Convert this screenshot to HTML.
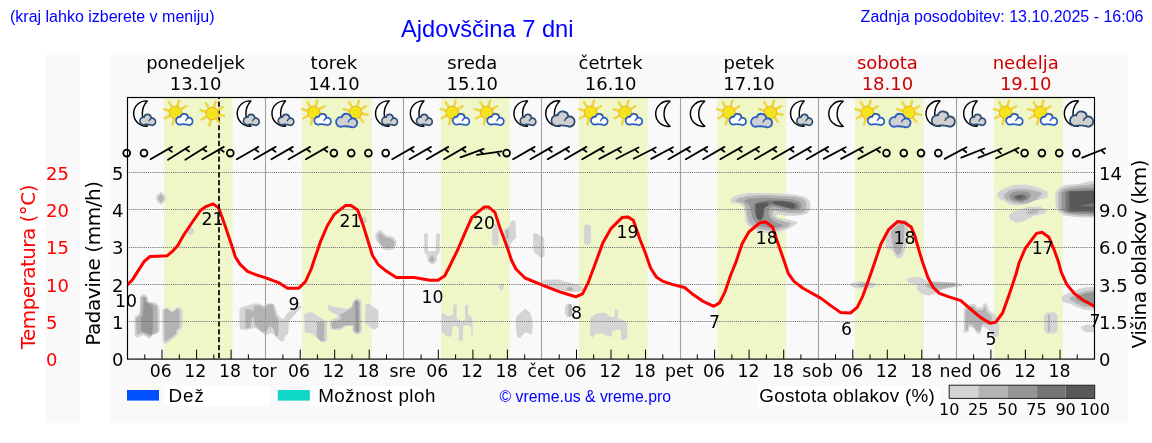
<!DOCTYPE html><html><head><meta charset="utf-8"><title>Ajdovščina 7 dni</title><style>html,body{margin:0;padding:0;background:#fff;width:1152px;height:443px;overflow:hidden}svg{display:block}</style></head><body>
<svg width="1152" height="443" viewBox="0 0 1152 443">
<text x="10" y="22" style='font-family:"Liberation Sans",Arial,sans-serif;font-size:16px' fill="#0000ff">(kraj lahko izberete v meniju)</text>
<text x="401" y="37" style='font-family:"Liberation Sans",Arial,sans-serif;font-size:23.7px' fill="#0000ff">Ajdovščina 7 dni</text>
<text x="1143.5" y="21.5" text-anchor="end" style='font-family:"Liberation Sans",Arial,sans-serif;font-size:16px' fill="#0000ff">Zadnja posodobitev: 13.10.2025 - 16:06</text>
<rect x="45" y="55" width="35" height="368" fill="#f9f9f9"/>
<rect x="110" y="55" width="1018" height="368" fill="#f9f9f9"/>
<rect x="127.5" y="97.5" width="967.0" height="261.6" fill="#f9f9fa"/>
<rect x="164" y="97.5" width="68.6" height="261.6" fill="#eff7c9"/>
<rect x="302.1" y="97.5" width="69.6" height="261.6" fill="#eff7c9"/>
<rect x="441" y="97.5" width="68.8" height="261.6" fill="#eff7c9"/>
<rect x="579" y="97.5" width="68.7" height="261.6" fill="#eff7c9"/>
<rect x="717.2" y="97.5" width="68.9" height="261.6" fill="#eff7c9"/>
<rect x="855" y="97.5" width="68.6" height="261.6" fill="#eff7c9"/>
<rect x="994" y="97.5" width="68.9" height="261.6" fill="#eff7c9"/>
<polygon points="139.8,296.8 142.9,294.3 146.0,295.0 147.9,298.1 148.5,301.8 154.7,302.4 158.4,304.9 159.6,309.9 159.6,331.0 157.8,333.4 152.2,335.3 150.3,338.4 147.9,337.8 142.9,334.7 140.4,336.5 137.3,337.8 134.8,335.9 134.2,318.5 135.4,316.1 139.2,314.2 139.8,308.6" fill="#d4d4d4"/>
<polygon points="141.0,297.4 144.1,296.2 146.6,297.4 147.2,301.8 152.8,303.7 157.2,306.1 157.8,331.0 153.4,334.1 149.7,336.5 146.6,334.7 141.7,332.8 136.7,334.7 136.1,318.5 140.4,314.8 141.0,302.4" fill="#b3b3b3"/>
<polygon points="143.5,296.8 144.8,297.4 145.4,301.8 152.2,305.5 152.8,306.1 152.8,331.0 151.0,335.3 146.6,332.8 141.7,331.6 141.0,318.5 142.9,314.8 143.5,302.4" fill="#959595"/>
<polygon points="162.1,309.9 165.2,307.4 168.3,308.0 172.1,311.7 177.0,307.4 180.1,307.4 182.6,309.9 182.6,327.2 178.3,331.0 177.6,334.7 169.0,342.1 165.2,344.0 162.8,342.1 162.1,314.8" fill="#d4d4d4"/>
<polygon points="164.0,310.5 166.5,308.6 172.1,312.3 177.6,308.6 179.5,309.9 179.5,327.2 176.4,329.7 175.8,334.1 167.7,340.3 164.6,340.9 164.0,314.8" fill="#b3b3b3"/>
<polygon points="161.0,191.7 165.7,196.0 165.7,200.0 161.0,205.2 156.2,200.0 156.2,196.0" fill="#d4d4d4"/>
<polygon points="161.0,194.0 163.5,197.0 163.5,199.5 161.0,202.5 158.5,199.5 158.5,197.0" fill="#b3b3b3"/>
<polygon points="190.5,226.0 193.9,229.5 193.9,232.5 190.5,235.0 187.1,232.5 187.1,229.5" fill="#d4d4d4"/>
<polygon points="239.5,309.7 241.2,307.4 248.6,305.2 253.1,303.5 259.3,303.5 262.1,305.2 265.5,306.3 267.8,303.5 273.4,303.5 275.1,306.3 277.4,314.2 281.3,318.7 284.1,318.7 287.0,313.6 291.5,310.2 298.8,305.7 301.1,305.7 301.6,306.9 289.2,321.0 288.1,333.4 284.7,336.8 284.1,341.3 280.7,341.3 276.2,337.4 273.4,334.0 270.0,332.8 268.3,334.5 265.5,335.1 261.0,331.7 255.3,327.8 250.8,328.9 245.7,330.0 240.1,328.9 239.3,325.5" fill="#d4d4d4"/>
<polygon points="245.2,310.2 247.4,309.1 250.8,309.7 253.1,311.9 254.2,305.7 259.3,305.2 262.7,306.9 265.5,307.4 267.8,304.6 272.8,304.6 274.0,308.6 275.7,315.3 278.5,319.9 278.5,326.6 277.9,335.7 275.7,336.2 274.0,328.9 271.1,326.6 268.9,326.6 266.6,331.1 262.7,332.3 258.7,328.9 255.3,325.5 253.6,317.6 251.9,317.6 250.2,327.8 245.7,328.3 245.2,317.6" fill="#b3b3b3"/>
<polygon points="304.3,314.2 310.2,311.9 312.4,312.5 318.1,316.4 324.3,319.8 327.1,322.1 327.1,340.7 324.3,342.4 320.9,341.8 319.2,339.0 311.3,333.4 304.5,332.2" fill="#d4d4d4"/>
<polygon points="316.9,322.1 324.3,321.5 324.3,340.7 321.4,341.3 316.9,337.9" fill="#b3b3b3"/>
<polygon points="327.1,306.3 329.3,305.2 333.9,306.8 347.4,309.1 351.9,305.7 353.0,301.2 356.4,298.4 358.7,299.0 361.5,301.2 361.8,331.1 359.8,333.9 356.4,334.5 353.0,332.2 352.5,326.0 346.3,326.0 340.6,330.0 333.9,330.0 330.5,328.9 329.6,323.2 331.0,319.8 337.2,317.6 338.9,315.9 333.9,313.6 328.8,310.2" fill="#d4d4d4"/>
<polygon points="339.5,314.7 345.1,311.9 351.9,307.4 354.2,301.8 359.8,301.8 360.4,331.1 357.5,333.4 353.6,331.1 353.0,324.9 345.1,325.5 340.6,327.7 332.7,328.9 331.0,323.2 332.7,321.5 339.5,319.8 341.7,317.6" fill="#b3b3b3"/>
<polygon points="355.3,300.6 358.1,300.6 358.4,331.1 355.9,331.7" fill="#959595"/>
<polygon points="365.4,304.6 368.8,303.5 372.2,306.3 378.4,310.2 378.4,326.6 375.6,329.4 372.2,328.9 367.7,324.9 365.2,323.8" fill="#d4d4d4"/>
<polygon points="363.5,215.9 366.7,219.0 366.7,222.0 364.0,224.0 361.3,221.0 361.3,218.0" fill="#d4d4d4"/>
<polygon points="375.3,234.0 379.4,229.9 381.2,230.3 386.1,235.3 392.9,236.7 396.5,240.7 396.5,245.7 392.9,249.7 386.6,250.2 382.1,248.4 376.7,241.2 375.3,238.5" fill="#d4d4d4"/>
<polygon points="378.0,234.9 379.8,232.6 384.8,237.1 392.0,238.9 394.7,242.1 393.8,246.6 391.1,248.0 385.7,248.0 382.1,245.7 378.5,240.3" fill="#b3b3b3"/>
<polygon points="424.1,234.0 426.0,233.1 427.8,234.0 427.8,251.2 435.5,251.2 436.2,234.0 437.8,233.1 439.8,234.0 439.8,251.2 436.9,255.7 436.9,261.1 434.2,263.8 430.6,263.8 427.4,261.1 427.4,255.7 424.1,252.1" fill="#d4d4d4"/>
<polygon points="431.9,254.8 434.6,258.4 434.2,261.1 431.9,262.5 429.5,260.7 429.5,258.4" fill="#b3b3b3"/>
<polygon points="441.4,314.2 443.7,313.1 447.6,315.9 450.5,315.9 453.3,313.6 453.3,305.2 455.0,304.0 456.7,305.7 456.7,318.7 458.9,319.8 462.3,321.5 465.1,319.3 465.1,305.2 468.0,305.2 468.0,314.2 472.5,318.7 473.0,335.6 471.3,335.6 471.3,327.2 468.5,325.5 466.3,324.9 462.9,327.2 462.9,340.7 458.9,340.7 458.9,327.7 456.1,326.0 452.7,326.6 451.6,336.2 447.6,336.8 441.4,331.7" fill="#d4d4d4"/>
<polygon points="492.2,226.0 493.8,224.0 497.0,224.0 498.6,226.0 498.6,243.8 497.0,245.8 493.8,245.8 492.2,243.8" fill="#d4d4d4"/>
<polygon points="503.9,229.8 507.6,227.2 510.3,226.1 510.3,221.9 512.9,219.8 515.6,221.9 516.1,237.8 510.8,243.1 510.3,246.8 506.0,247.9 503.9,245.8" fill="#d4d4d4"/>
<polygon points="506.0,229.8 508.7,229.8 508.7,238.9 506.0,238.9" fill="#b3b3b3"/>
<polygon points="498.5,285.5 501.3,283.8 504.0,285.5 503.0,290.0 500.0,290.0" fill="#d4d4d4"/>
<polygon points="515.9,317.6 520.4,313.0 525.0,308.5 529.5,311.9 531.7,316.4 532.9,327.7 531.7,334.5 525.0,332.2 520.4,337.9 517.0,336.7 515.9,327.7" fill="#d4d4d4"/>
<polygon points="533.1,234.1 535.7,233.0 540.0,235.7 544.2,237.3 544.7,255.8 542.1,257.9 540.0,257.4 533.6,251.6 533.1,246.8" fill="#d4d4d4"/>
<polygon points="542.0,281.3 544.3,279.7 558.6,279.4 563.3,281.0 569.6,282.6 577.5,284.5 583.1,287.6 583.1,290.0 579.1,292.1 572.0,292.1 561.7,290.8 555.4,289.2 544.3,284.5 542.0,282.9" fill="#d4d4d4"/>
<polygon points="565.7,289.2 569.6,286.4 572.0,287.6 573.6,290.0 571.2,290.8 566.5,290.5" fill="#b3b3b3"/>
<polygon points="567.0,303.5 572.0,304.5 572.0,316.0 567.0,316.9 564.9,313.0 564.9,307.0" fill="#d4d4d4"/>
<polygon points="568.5,304.0 572.0,304.5 572.0,316.0 568.5,316.5" fill="#b3b3b3"/>
<polygon points="584.1,226.0 587.5,224.1 590.9,226.0 590.9,243.0 587.5,245.1 584.1,243.0" fill="#d4d4d4"/>
<polygon points="590.2,317.7 597.3,312.9 605.2,312.9 610.7,316.9 614.7,316.9 614.7,309.8 616.2,309.0 617.8,310.6 617.8,318.5 624.2,320.8 627.3,322.4 627.3,338.2 622.6,340.6 621.0,339.0 621.0,330.3 617.0,329.5 612.3,331.1 611.5,336.7 607.6,335.9 602.0,333.5 596.5,333.5 592.5,337.4 590.2,335.9" fill="#d4d4d4"/>
<polygon points="730.1,200.4 733.5,196.5 740.8,194.2 748.7,193.1 762.3,193.1 779.2,193.6 795.0,194.8 804.0,196.5 808.6,199.3 810.3,203.8 810.3,209.5 807.4,213.4 802.9,215.1 795.0,215.7 784.8,215.7 778.1,214.2 775.8,215.7 778.1,217.9 788.2,219.6 797.3,221.9 797.3,223.0 792.8,226.4 786.0,229.8 778.1,232.6 772.4,233.2 763.4,232.6 754.4,229.8 747.6,225.3 745.3,220.7 744.8,212.8 743.6,207.2 739.7,203.8 731.8,203.2" fill="#d4d4d4"/>
<polygon points="735.2,200.4 738.6,198.2 747.6,195.9 762.3,195.0 779.2,195.7 795.0,196.8 802.9,198.7 806.3,202.7 806.3,208.9 803.5,212.3 797.3,213.4 788.2,213.1 780.3,211.7 774.7,210.6 772.4,212.3 772.4,216.2 776.9,219.6 786.0,221.9 790.5,223.0 788.2,226.4 778.1,229.8 770.2,230.3 760.0,229.2 753.2,226.4 748.7,221.9 747.0,215.1 745.9,208.3 743.6,203.2 737.4,202.1" fill="#b3b3b3"/>
<polygon points="743.1,201.6 748.7,198.7 762.3,197.6 778.1,198.2 792.8,199.3 800.1,202.1 801.8,206.1 800.1,209.5 793.9,210.6 786.0,210.0 778.1,207.8 772.4,206.6 769.0,208.9 768.5,214.0 770.2,218.5 774.7,221.9 783.7,225.3 778.1,227.5 770.2,228.1 762.3,227.0 756.6,224.1 752.7,219.1 751.0,211.7 749.8,206.6 747.6,203.8" fill="#959595"/>
<polygon points="754.4,203.8 758.9,202.1 767.9,200.4 779.2,200.4 790.5,201.6 797.3,203.8 799.0,207.2 796.1,208.9 788.2,208.3 779.2,206.1 771.3,204.4 765.7,206.1 764.0,210.6 764.5,216.2 762.3,219.6 758.9,220.2 756.6,217.4 754.9,211.7" fill="#757575"/>
<polygon points="756.0,204.0 767.0,202.5 768.5,205.5 764.0,208.0 763.0,214.0 761.0,220.0 757.0,219.0 755.5,212.0" fill="#585858"/>
<polygon points="772.4,201.6 783.7,201.3 792.8,203.2 795.6,206.6 792.8,208.9 783.7,206.6 774.7,203.8" fill="#585858"/>
<polygon points="850.4,283.6 857.6,281.4 868.5,281.4 876.6,283.6 873.9,287.2 866.7,289.0 855.8,288.1 851.3,286.3" fill="#d4d4d4"/>
<polygon points="855.8,284.5 863.1,282.7 870.3,283.6 868.5,286.3 861.3,287.2" fill="#b3b3b3"/>
<polygon points="885.6,233.1 890.1,225.8 899.2,220.4 906.4,219.5 909.1,223.1 908.2,238.5 904.6,251.1 901.9,257.4 896.4,258.3 893.7,252.9 890.1,248.4 885.6,248.4" fill="#d4d4d4"/>
<polygon points="891.0,232.1 897.3,224.9 902.8,223.1 904.6,225.8 903.7,242.1 901.0,252.9 897.3,255.6 894.6,251.1 891.9,242.1" fill="#b3b3b3"/>
<polygon points="906.2,279.9 910.9,277.5 918.8,276.7 923.5,279.1 926.7,280.7 940.9,281.5 953.6,282.3 963.0,284.6 961.5,286.2 950.4,287.8 940.9,290.2 934.6,294.1 928.3,295.7 922.0,294.1 917.2,290.2 916.4,287.0 918.8,284.6 909.3,283.1" fill="#d4d4d4"/>
<polygon points="926.7,284.6 934.6,282.3 953.6,283.1 956.7,285.4 947.2,287.8 937.8,289.4 931.4,289.1 926.7,287.0" fill="#b3b3b3"/>
<polygon points="963.8,308.3 970.9,303.6 975.7,304.4 977.2,307.5 982.0,307.5 983.6,303.6 986.7,303.6 989.1,309.9 993.8,313.9 997.8,317.8 999.4,325.7 998.6,336.8 993.8,336.8 990.7,332.0 985.2,327.3 982.0,326.5 980.4,333.6 977.2,333.6 972.5,327.3 969.3,327.3 968.6,332.0 963.8,332.8" fill="#d4d4d4"/>
<polygon points="965.4,309.9 970.9,306.0 974.9,306.8 975.7,309.9 982.8,309.9 985.2,306.0 986.7,311.5 991.5,316.2 991.5,324.9 986.7,324.1 982.0,324.1 980.4,331.2 977.2,331.2 972.5,324.9 968.6,324.1 967.8,329.7 965.4,330.4" fill="#b3b3b3"/>
<polygon points="997.2,193.2 1000.4,190.5 1006.9,187.2 1013.4,185.0 1024.3,184.5 1036.2,186.7 1042.7,189.4 1047.6,192.1 1047.6,197.5 1041.6,199.1 1034.0,200.8 1027.5,204.0 1019.9,205.6 1010.2,204.6 1004.8,201.3 999.3,198.6 997.2,196.4" fill="#d4d4d4"/>
<polygon points="1004.2,194.3 1009.1,190.5 1016.7,188.8 1025.4,188.8 1031.9,189.9 1040.5,192.1 1041.6,194.3 1036.2,199.7 1029.7,202.4 1023.2,204.0 1014.5,202.9 1006.9,200.2 1004.2,197.5" fill="#b3b3b3"/>
<polygon points="1009.1,195.3 1012.3,192.6 1018.8,191.0 1026.4,191.6 1030.8,193.7 1030.8,196.4 1027.5,199.7 1022.1,201.8 1015.6,201.3 1010.2,199.1" fill="#959595"/>
<polygon points="1012.9,197.0 1016.7,194.8 1023.2,194.3 1027.5,196.4 1026.4,199.1 1021.0,200.8 1015.6,199.7" fill="#757575"/>
<polygon points="1016.1,196.4 1019.9,195.3 1023.7,196.4 1021.0,198.6 1017.2,198.1" fill="#585858"/>
<polygon points="1009.1,214.9 1013.4,211.6 1023.2,208.9 1027.5,206.7 1040.5,206.7 1046.0,210.5 1044.9,213.8 1035.1,215.4 1027.5,219.2 1022.1,221.9 1015.6,222.4 1010.2,219.7" fill="#d4d4d4"/>
<polygon points="1025.4,212.7 1029.7,210.5 1038.4,210.0 1037.3,213.2 1030.8,214.3" fill="#b3b3b3"/>
<polygon points="1055.2,192.1 1060.0,187.2 1065.5,185.0 1070.9,184.5 1081.7,183.4 1088.2,181.3 1094.5,181.3 1094.5,217.6 1088.2,217.6 1075.2,217.0 1064.4,215.4 1059.0,212.7 1055.7,207.3 1055.2,199.7" fill="#d4d4d4"/>
<polygon points="1058.4,193.2 1062.2,188.8 1070.9,186.7 1081.7,185.6 1094.5,184.0 1094.5,215.9 1077.4,215.4 1065.5,213.8 1060.0,210.5 1058.4,205.1" fill="#b3b3b3"/>
<polygon points="1061.7,193.2 1064.4,190.5 1073.0,188.8 1094.5,187.2 1094.5,214.3 1073.0,213.8 1064.4,212.1 1061.7,209.4" fill="#959595"/>
<polygon points="1065.5,193.2 1068.7,191.0 1094.5,189.9 1094.5,212.7 1068.7,212.1 1065.5,209.4" fill="#757575"/>
<polygon points="1069.3,191.6 1094.5,191.0 1094.5,202.9 1079.6,205.6 1094.5,207.3 1094.5,211.1 1069.3,211.1" fill="#585858"/>
<polygon points="1061.7,296.3 1067.1,293.6 1075.2,290.2 1084.7,287.5 1094.5,286.8 1094.5,310.5 1084.7,309.8 1076.6,307.1 1069.8,303.7 1062.4,301.7" fill="#d4d4d4"/>
<polygon points="1069.8,297.6 1077.9,293.6 1087.4,290.8 1094.5,290.2 1094.5,307.8 1083.4,306.4 1075.2,303.0 1070.5,300.3" fill="#b3b3b3"/>
<polygon points="1075.2,297.6 1084.7,293.6 1094.5,292.2 1094.5,305.1 1083.4,303.0 1076.6,300.3" fill="#959595"/>
<polygon points="1047.0,312.5 1054.7,312.5 1057.6,315.5 1057.6,330.5 1054.7,333.5 1047.0,333.5 1044.1,330.5 1044.1,315.5" fill="#d4d4d4"/>
<polygon points="1048.1,314.6 1049.8,314.6 1049.8,331.5 1048.1,331.5" fill="#b3b3b3"/>
<polygon points="1080.7,326.7 1086.1,324.7 1094.5,324.7 1094.5,332.2 1086.1,332.2 1082.0,330.1" fill="#d4d4d4"/>
<line x1="127" y1="321.5" x2="1094" y2="321.5" stroke="#6a6a6a" stroke-width="1" stroke-dasharray="1.05 1.05"/>
<line x1="127" y1="284.5" x2="1094" y2="284.5" stroke="#6a6a6a" stroke-width="1" stroke-dasharray="1.05 1.05"/>
<line x1="127" y1="247.5" x2="1094" y2="247.5" stroke="#6a6a6a" stroke-width="1" stroke-dasharray="1.05 1.05"/>
<line x1="127" y1="209.5" x2="1094" y2="209.5" stroke="#6a6a6a" stroke-width="1" stroke-dasharray="1.05 1.05"/>
<line x1="127" y1="172.5" x2="1094" y2="172.5" stroke="#6a6a6a" stroke-width="1" stroke-dasharray="1.05 1.05"/>
<line x1="265.5" y1="97.5" x2="265.5" y2="359.1" stroke="#a0a0a0" stroke-width="1.1"/>
<line x1="403.5" y1="97.5" x2="403.5" y2="359.1" stroke="#a0a0a0" stroke-width="1.1"/>
<line x1="541.5" y1="97.5" x2="541.5" y2="359.1" stroke="#a0a0a0" stroke-width="1.1"/>
<line x1="680.5" y1="97.5" x2="680.5" y2="359.1" stroke="#a0a0a0" stroke-width="1.1"/>
<line x1="818.5" y1="97.5" x2="818.5" y2="359.1" stroke="#a0a0a0" stroke-width="1.1"/>
<line x1="956.5" y1="97.5" x2="956.5" y2="359.1" stroke="#a0a0a0" stroke-width="1.1"/>
<clipPath id="pc"><rect x="127.5" y="97.5" width="967.0" height="261.6"/></clipPath>
<polyline points="127.5,284.7 132.4,279.9 137.9,271.1 144,261.7 150,256.5 157.5,256.2 167,255.8 173,250.8 177.8,245.4 183.7,235 192.8,221.5 200.7,210.2 206.3,206.3 213.1,203.9 218.7,207.9 224.4,223.7 229.9,240 232.6,248.1 235.3,256.9 240.1,264.4 247.5,271.4 256.3,274.9 265.8,277.9 271.2,279.9 278.5,282.6 287.5,288.2 298.8,288.2 305.6,281.4 311.2,269 313.5,262 320.5,241.7 327.2,226 334,214.7 345.3,205.6 351,205.6 357.7,210.1 363.4,226 372.4,255.3 378,264.3 385,270.2 396.3,277.6 414.3,277.6 430.1,280.3 438,280.3 444.8,275.8 450.5,264.5 457.2,250.8 465.1,232.7 471.9,217.4 477.6,212.4 484.3,207 488.8,207 494.9,212.4 500.1,228.2 506.9,246.3 511.4,260 515.9,269 525,278 543,285.3 561,292.3 575.7,296.8 582.5,293.9 588.2,282.6 595.5,263 602.8,242.9 610.7,228.9 622,217.6 627.7,216.9 633.3,220.3 640,239.5 645,252 650.6,268 656.3,276.9 663.1,281.4 672.1,284.4 684.5,287.5 692.4,293.9 702.6,301.1 713.8,306.3 719.5,302.9 725.1,291.6 730.8,274.7 736,262 742,244 748.8,232 760.1,222.6 765.8,221.9 772.5,227.1 778.2,244 784.5,262 788.3,273.5 794,281.4 803,288.2 821.1,298.4 830.1,305.1 840.3,312.4 850.4,313 857.2,307.4 862.8,296.1 868.5,280.3 874.5,263 880.9,244 888.8,229.3 897.8,221.4 904.4,222.6 911.2,227.1 914.6,235 919.1,250.8 922.5,262 928.1,278.1 933.8,288.2 939.4,293.4 948.4,296.6 960.8,300.6 969.9,308.5 980,317.1 990.2,323.2 995.8,322.1 1002.6,313 1009.4,293.9 1016.2,273.5 1019,263 1025.2,248.5 1036.5,233.4 1042.1,232.3 1048.9,237.2 1054.5,250.8 1058.5,262 1061.3,272.4 1067,284.8 1074.8,293.9 1083.9,300.6 1094.5,306.3" fill="none" stroke="#ff0000" stroke-width="3.0" stroke-linejoin="round" stroke-linecap="round" clip-path="url(#pc)"/>
<text x="126.0" y="307" text-anchor="middle" style='font-family:"DejaVu Sans",sans-serif;font-size:17.3px' fill="#000">10</text>
<text x="212.5" y="225" text-anchor="middle" style='font-family:"DejaVu Sans",sans-serif;font-size:17.3px' fill="#000">21</text>
<text x="294.0" y="310" text-anchor="middle" style='font-family:"DejaVu Sans",sans-serif;font-size:17.3px' fill="#000">9</text>
<text x="350.4" y="226.6" text-anchor="middle" style='font-family:"DejaVu Sans",sans-serif;font-size:17.3px' fill="#000">21</text>
<text x="432.4" y="303" text-anchor="middle" style='font-family:"DejaVu Sans",sans-serif;font-size:17.3px' fill="#000">10</text>
<text x="483.9" y="228.9" text-anchor="middle" style='font-family:"DejaVu Sans",sans-serif;font-size:17.3px' fill="#000">20</text>
<text x="576.6" y="319.1" text-anchor="middle" style='font-family:"DejaVu Sans",sans-serif;font-size:17.3px' fill="#000">8</text>
<text x="627.5" y="237.7" text-anchor="middle" style='font-family:"DejaVu Sans",sans-serif;font-size:17.3px' fill="#000">19</text>
<text x="714.5" y="327.7" text-anchor="middle" style='font-family:"DejaVu Sans",sans-serif;font-size:17.3px' fill="#000">7</text>
<text x="766.7" y="243.6" text-anchor="middle" style='font-family:"DejaVu Sans",sans-serif;font-size:17.3px' fill="#000">18</text>
<text x="846.4" y="334.5" text-anchor="middle" style='font-family:"DejaVu Sans",sans-serif;font-size:17.3px' fill="#000">6</text>
<text x="904.5" y="243.6" text-anchor="middle" style='font-family:"DejaVu Sans",sans-serif;font-size:17.3px' fill="#000">18</text>
<text x="990.9" y="344.7" text-anchor="middle" style='font-family:"DejaVu Sans",sans-serif;font-size:17.3px' fill="#000">5</text>
<text x="1042.7" y="253.7" text-anchor="middle" style='font-family:"DejaVu Sans",sans-serif;font-size:17.3px' fill="#000">17</text>
<text x="1095.0" y="327.3" text-anchor="middle" style='font-family:"DejaVu Sans",sans-serif;font-size:17.3px' fill="#000">7</text>
<line x1="219" y1="97.5" x2="219" y2="359.1" stroke="#1a1a1a" stroke-width="1.9" stroke-dasharray="5.2 2.65" stroke-dashoffset="3.75"/>
<path d="M147.2,100.9 A12.68,12.68 0 1 0 147.2,126.2 A18.78,18.78 0 0 1 147.2,100.9 Z" fill="#fff" stroke="#000" stroke-width="1.45" stroke-linejoin="round"/><g transform="translate(139.1,113.5) scale(1.000,1.144)"><g transform="translate(0.800,0.800) scale(0.9075,0.8559)"><path d="M5.23,10.36 A3.9,3.9 0 1 1 4.66,2.88 A4.0,4.0 0 0 1 12.50,3.87 A3.7,3.7 0 1 1 12.04,10.75 Q8.2,9.9 5.23,10.36 Z" fill="#d0d0d0" stroke="#2c4d72" stroke-width="1.763" stroke-linejoin="round"/><path d="M12.3,4.3 A3.2,3.2 0 0 0 10.0,6.6" fill="none" stroke="#2c4d72" stroke-width="1.360" stroke-linecap="round"/></g></g>
<polygon points="180.76,110.57 186.92,106.46 186.20,105.26 179.68,108.77" fill="#f3e51e" stroke="#e6b43c" stroke-width="0.5" stroke-linejoin="round"/><polygon points="180.74,114.49 188.09,115.43 188.33,114.05 181.10,112.42" fill="#f3e51e" stroke="#e6b43c" stroke-width="0.5" stroke-linejoin="round"/><polygon points="178.06,117.48 182.89,123.10 184.00,122.23 179.72,116.19" fill="#f3e51e" stroke="#e6b43c" stroke-width="0.5" stroke-linejoin="round"/><polygon points="173.15,117.58 171.70,124.85 173.06,125.19 175.19,118.09" fill="#f3e51e" stroke="#e6b43c" stroke-width="0.5" stroke-linejoin="round"/><polygon points="170.18,114.25 163.88,118.14 164.56,119.37 171.20,116.08" fill="#f3e51e" stroke="#e6b43c" stroke-width="0.5" stroke-linejoin="round"/><polygon points="170.51,109.97 163.30,108.27 162.91,109.62 169.93,111.99" fill="#f3e51e" stroke="#e6b43c" stroke-width="0.5" stroke-linejoin="round"/><polygon points="173.48,107.28 169.26,101.19 168.07,101.93 171.70,108.39" fill="#f3e51e" stroke="#e6b43c" stroke-width="0.5" stroke-linejoin="round"/><polygon points="178.03,107.50 179.73,100.29 178.39,99.91 176.01,106.92" fill="#f3e51e" stroke="#e6b43c" stroke-width="0.5" stroke-linejoin="round"/><circle cx="175.5" cy="112.5" r="6.2" fill="#f3e51b" stroke="#f2a52a" stroke-width="0.9"/><g transform="translate(175.2,113.0) scale(1.058,1.171)"><g transform="translate(0.804,0.804) scale(0.9071,0.8552)"><path d="M5.23,10.36 A3.9,3.9 0 1 1 4.66,2.88 A4.0,4.0 0 0 1 12.50,3.87 A3.7,3.7 0 1 1 12.04,10.75 Q8.2,9.9 5.23,10.36 Z" fill="#fff" stroke="#2a5fc0" stroke-width="1.772" stroke-linejoin="round"/><path d="M12.3,4.3 A3.2,3.2 0 0 0 10.0,6.6" fill="none" stroke="#2a5fc0" stroke-width="1.366" stroke-linecap="round"/></g></g>
<polygon points="217.49,111.67 223.66,107.56 222.94,106.36 216.41,109.87" fill="#f3e51e" stroke="#e6b43c" stroke-width="0.5" stroke-linejoin="round"/><polygon points="217.47,115.59 224.82,116.53 225.06,115.15 217.84,113.52" fill="#f3e51e" stroke="#e6b43c" stroke-width="0.5" stroke-linejoin="round"/><polygon points="214.80,118.58 219.63,124.20 220.73,123.33 216.45,117.29" fill="#f3e51e" stroke="#e6b43c" stroke-width="0.5" stroke-linejoin="round"/><polygon points="209.89,118.68 208.44,125.95 209.80,126.29 211.93,119.19" fill="#f3e51e" stroke="#e6b43c" stroke-width="0.5" stroke-linejoin="round"/><polygon points="206.92,115.35 200.62,119.24 201.30,120.47 207.94,117.18" fill="#f3e51e" stroke="#e6b43c" stroke-width="0.5" stroke-linejoin="round"/><polygon points="207.24,111.07 200.03,109.37 199.65,110.72 206.66,113.09" fill="#f3e51e" stroke="#e6b43c" stroke-width="0.5" stroke-linejoin="round"/><polygon points="210.22,108.38 206.00,102.29 204.81,103.03 208.43,109.49" fill="#f3e51e" stroke="#e6b43c" stroke-width="0.5" stroke-linejoin="round"/><polygon points="214.76,108.60 216.47,101.39 215.12,101.01 212.75,108.02" fill="#f3e51e" stroke="#e6b43c" stroke-width="0.5" stroke-linejoin="round"/><circle cx="212.2" cy="113.6" r="6.2" fill="#f3e51b" stroke="#f2a52a" stroke-width="0.9"/>
<path d="M250.8,100.9 A12.68,12.68 0 1 0 250.8,126.2 A18.78,18.78 0 0 1 250.8,100.9 Z" fill="#fff" stroke="#000" stroke-width="1.45" stroke-linejoin="round"/><g transform="translate(242.7,113.5) scale(1.000,1.144)"><g transform="translate(0.800,0.800) scale(0.9075,0.8559)"><path d="M5.23,10.36 A3.9,3.9 0 1 1 4.66,2.88 A4.0,4.0 0 0 1 12.50,3.87 A3.7,3.7 0 1 1 12.04,10.75 Q8.2,9.9 5.23,10.36 Z" fill="#d0d0d0" stroke="#2c4d72" stroke-width="1.763" stroke-linejoin="round"/><path d="M12.3,4.3 A3.2,3.2 0 0 0 10.0,6.6" fill="none" stroke="#2c4d72" stroke-width="1.360" stroke-linecap="round"/></g></g>
<path d="M285.5,100.9 A12.68,12.68 0 1 0 285.5,126.2 A18.78,18.78 0 0 1 285.5,100.9 Z" fill="#fff" stroke="#000" stroke-width="1.45" stroke-linejoin="round"/><g transform="translate(277.4,113.5) scale(1.000,1.144)"><g transform="translate(0.800,0.800) scale(0.9075,0.8559)"><path d="M5.23,10.36 A3.9,3.9 0 1 1 4.66,2.88 A4.0,4.0 0 0 1 12.50,3.87 A3.7,3.7 0 1 1 12.04,10.75 Q8.2,9.9 5.23,10.36 Z" fill="#d0d0d0" stroke="#2c4d72" stroke-width="1.763" stroke-linejoin="round"/><path d="M12.3,4.3 A3.2,3.2 0 0 0 10.0,6.6" fill="none" stroke="#2c4d72" stroke-width="1.360" stroke-linecap="round"/></g></g>
<polygon points="319.10,110.57 325.26,106.46 324.54,105.26 318.02,108.77" fill="#f3e51e" stroke="#e6b43c" stroke-width="0.5" stroke-linejoin="round"/><polygon points="319.08,114.49 326.43,115.43 326.67,114.05 319.45,112.42" fill="#f3e51e" stroke="#e6b43c" stroke-width="0.5" stroke-linejoin="round"/><polygon points="316.41,117.48 321.24,123.10 322.34,122.23 318.06,116.19" fill="#f3e51e" stroke="#e6b43c" stroke-width="0.5" stroke-linejoin="round"/><polygon points="311.50,117.58 310.05,124.85 311.40,125.19 313.53,118.09" fill="#f3e51e" stroke="#e6b43c" stroke-width="0.5" stroke-linejoin="round"/><polygon points="308.53,114.25 302.22,118.14 302.90,119.37 309.55,116.08" fill="#f3e51e" stroke="#e6b43c" stroke-width="0.5" stroke-linejoin="round"/><polygon points="308.85,109.97 301.64,108.27 301.25,109.62 308.27,111.99" fill="#f3e51e" stroke="#e6b43c" stroke-width="0.5" stroke-linejoin="round"/><polygon points="311.82,107.28 307.60,101.19 306.42,101.93 310.04,108.39" fill="#f3e51e" stroke="#e6b43c" stroke-width="0.5" stroke-linejoin="round"/><polygon points="316.37,107.50 318.08,100.29 316.73,99.91 314.35,106.92" fill="#f3e51e" stroke="#e6b43c" stroke-width="0.5" stroke-linejoin="round"/><circle cx="313.8" cy="112.5" r="6.2" fill="#f3e51b" stroke="#f2a52a" stroke-width="0.9"/><g transform="translate(313.5,113.0) scale(1.058,1.171)"><g transform="translate(0.804,0.804) scale(0.9071,0.8552)"><path d="M5.23,10.36 A3.9,3.9 0 1 1 4.66,2.88 A4.0,4.0 0 0 1 12.50,3.87 A3.7,3.7 0 1 1 12.04,10.75 Q8.2,9.9 5.23,10.36 Z" fill="#fff" stroke="#2a5fc0" stroke-width="1.772" stroke-linejoin="round"/><path d="M12.3,4.3 A3.2,3.2 0 0 0 10.0,6.6" fill="none" stroke="#2a5fc0" stroke-width="1.366" stroke-linecap="round"/></g></g>
<polygon points="360.74,110.57 366.90,106.46 366.18,105.26 359.66,108.77" fill="#f3e51e" stroke="#e6b43c" stroke-width="0.5" stroke-linejoin="round"/><polygon points="360.72,114.49 368.06,115.43 368.31,114.05 361.08,112.42" fill="#f3e51e" stroke="#e6b43c" stroke-width="0.5" stroke-linejoin="round"/><polygon points="358.04,117.48 362.87,123.10 363.98,122.23 359.70,116.19" fill="#f3e51e" stroke="#e6b43c" stroke-width="0.5" stroke-linejoin="round"/><polygon points="353.13,117.58 351.68,124.85 353.04,125.19 355.17,118.09" fill="#f3e51e" stroke="#e6b43c" stroke-width="0.5" stroke-linejoin="round"/><polygon points="350.16,114.25 343.86,118.14 344.54,119.37 351.18,116.08" fill="#f3e51e" stroke="#e6b43c" stroke-width="0.5" stroke-linejoin="round"/><polygon points="350.48,109.97 343.27,108.27 342.89,109.62 349.91,111.99" fill="#f3e51e" stroke="#e6b43c" stroke-width="0.5" stroke-linejoin="round"/><polygon points="353.46,107.28 349.24,101.19 348.05,101.93 351.68,108.39" fill="#f3e51e" stroke="#e6b43c" stroke-width="0.5" stroke-linejoin="round"/><polygon points="358.01,107.50 359.71,100.29 358.36,99.91 355.99,106.92" fill="#f3e51e" stroke="#e6b43c" stroke-width="0.5" stroke-linejoin="round"/><circle cx="355.5" cy="112.5" r="6.2" fill="#f3e51b" stroke="#f2a52a" stroke-width="0.9"/><g transform="translate(335.2,112.8) scale(1.318,1.396)"><g transform="translate(0.683,0.683) scale(0.9211,0.8770)"><path d="M5.23,10.36 A3.9,3.9 0 1 1 4.66,2.88 A4.0,4.0 0 0 1 12.50,3.87 A3.7,3.7 0 1 1 12.04,10.75 Q8.2,9.9 5.23,10.36 Z" fill="#d0d0d0" stroke="#2a5fc0" stroke-width="1.483" stroke-linejoin="round"/><path d="M12.3,4.3 A3.2,3.2 0 0 0 10.0,6.6" fill="none" stroke="#2a5fc0" stroke-width="1.161" stroke-linecap="round"/></g></g>
<path d="M389.1,100.9 A12.68,12.68 0 1 0 389.1,126.2 A18.78,18.78 0 0 1 389.1,100.9 Z" fill="#fff" stroke="#000" stroke-width="1.45" stroke-linejoin="round"/><g transform="translate(381.0,113.5) scale(1.000,1.144)"><g transform="translate(0.800,0.800) scale(0.9075,0.8559)"><path d="M5.23,10.36 A3.9,3.9 0 1 1 4.66,2.88 A4.0,4.0 0 0 1 12.50,3.87 A3.7,3.7 0 1 1 12.04,10.75 Q8.2,9.9 5.23,10.36 Z" fill="#d0d0d0" stroke="#2c4d72" stroke-width="1.763" stroke-linejoin="round"/><path d="M12.3,4.3 A3.2,3.2 0 0 0 10.0,6.6" fill="none" stroke="#2c4d72" stroke-width="1.360" stroke-linecap="round"/></g></g>
<path d="M423.9,100.9 A12.68,12.68 0 1 0 423.9,126.2 A18.78,18.78 0 0 1 423.9,100.9 Z" fill="#fff" stroke="#000" stroke-width="1.45" stroke-linejoin="round"/><g transform="translate(415.8,113.5) scale(1.000,1.144)"><g transform="translate(0.800,0.800) scale(0.9075,0.8559)"><path d="M5.23,10.36 A3.9,3.9 0 1 1 4.66,2.88 A4.0,4.0 0 0 1 12.50,3.87 A3.7,3.7 0 1 1 12.04,10.75 Q8.2,9.9 5.23,10.36 Z" fill="#d0d0d0" stroke="#2c4d72" stroke-width="1.763" stroke-linejoin="round"/><path d="M12.3,4.3 A3.2,3.2 0 0 0 10.0,6.6" fill="none" stroke="#2c4d72" stroke-width="1.360" stroke-linecap="round"/></g></g>
<polygon points="457.44,110.57 463.61,106.46 462.89,105.26 456.36,108.77" fill="#f3e51e" stroke="#e6b43c" stroke-width="0.5" stroke-linejoin="round"/><polygon points="457.42,114.49 464.77,115.43 465.01,114.05 457.79,112.42" fill="#f3e51e" stroke="#e6b43c" stroke-width="0.5" stroke-linejoin="round"/><polygon points="454.75,117.48 459.58,123.10 460.68,122.23 456.40,116.19" fill="#f3e51e" stroke="#e6b43c" stroke-width="0.5" stroke-linejoin="round"/><polygon points="449.84,117.58 448.39,124.85 449.75,125.19 451.88,118.09" fill="#f3e51e" stroke="#e6b43c" stroke-width="0.5" stroke-linejoin="round"/><polygon points="446.87,114.25 440.57,118.14 441.25,119.37 447.89,116.08" fill="#f3e51e" stroke="#e6b43c" stroke-width="0.5" stroke-linejoin="round"/><polygon points="447.19,109.97 439.98,108.27 439.60,109.62 446.61,111.99" fill="#f3e51e" stroke="#e6b43c" stroke-width="0.5" stroke-linejoin="round"/><polygon points="450.17,107.28 445.95,101.19 444.76,101.93 448.38,108.39" fill="#f3e51e" stroke="#e6b43c" stroke-width="0.5" stroke-linejoin="round"/><polygon points="454.71,107.50 456.42,100.29 455.07,99.91 452.70,106.92" fill="#f3e51e" stroke="#e6b43c" stroke-width="0.5" stroke-linejoin="round"/><circle cx="452.2" cy="112.5" r="6.2" fill="#f3e51b" stroke="#f2a52a" stroke-width="0.9"/><g transform="translate(451.9,113.0) scale(1.058,1.171)"><g transform="translate(0.804,0.804) scale(0.9071,0.8552)"><path d="M5.23,10.36 A3.9,3.9 0 1 1 4.66,2.88 A4.0,4.0 0 0 1 12.50,3.87 A3.7,3.7 0 1 1 12.04,10.75 Q8.2,9.9 5.23,10.36 Z" fill="#fff" stroke="#2a5fc0" stroke-width="1.772" stroke-linejoin="round"/><path d="M12.3,4.3 A3.2,3.2 0 0 0 10.0,6.6" fill="none" stroke="#2a5fc0" stroke-width="1.366" stroke-linecap="round"/></g></g>
<polygon points="491.98,110.57 498.14,106.46 497.42,105.26 490.90,108.77" fill="#f3e51e" stroke="#e6b43c" stroke-width="0.5" stroke-linejoin="round"/><polygon points="491.96,114.49 499.31,115.43 499.55,114.05 492.32,112.42" fill="#f3e51e" stroke="#e6b43c" stroke-width="0.5" stroke-linejoin="round"/><polygon points="489.28,117.48 494.12,123.10 495.22,122.23 490.94,116.19" fill="#f3e51e" stroke="#e6b43c" stroke-width="0.5" stroke-linejoin="round"/><polygon points="484.38,117.58 482.93,124.85 484.28,125.19 486.41,118.09" fill="#f3e51e" stroke="#e6b43c" stroke-width="0.5" stroke-linejoin="round"/><polygon points="481.41,114.25 475.10,118.14 475.78,119.37 482.42,116.08" fill="#f3e51e" stroke="#e6b43c" stroke-width="0.5" stroke-linejoin="round"/><polygon points="481.73,109.97 474.52,108.27 474.13,109.62 481.15,111.99" fill="#f3e51e" stroke="#e6b43c" stroke-width="0.5" stroke-linejoin="round"/><polygon points="484.70,107.28 480.48,101.19 479.30,101.93 482.92,108.39" fill="#f3e51e" stroke="#e6b43c" stroke-width="0.5" stroke-linejoin="round"/><polygon points="489.25,107.50 490.95,100.29 489.61,99.91 487.23,106.92" fill="#f3e51e" stroke="#e6b43c" stroke-width="0.5" stroke-linejoin="round"/><circle cx="486.7" cy="112.5" r="6.2" fill="#f3e51b" stroke="#f2a52a" stroke-width="0.9"/><g transform="translate(486.4,113.0) scale(1.058,1.171)"><g transform="translate(0.804,0.804) scale(0.9071,0.8552)"><path d="M5.23,10.36 A3.9,3.9 0 1 1 4.66,2.88 A4.0,4.0 0 0 1 12.50,3.87 A3.7,3.7 0 1 1 12.04,10.75 Q8.2,9.9 5.23,10.36 Z" fill="#fff" stroke="#2a5fc0" stroke-width="1.772" stroke-linejoin="round"/><path d="M12.3,4.3 A3.2,3.2 0 0 0 10.0,6.6" fill="none" stroke="#2a5fc0" stroke-width="1.366" stroke-linecap="round"/></g></g>
<path d="M527.5,100.9 A12.68,12.68 0 1 0 527.5,126.2 A18.78,18.78 0 0 1 527.5,100.9 Z" fill="#fff" stroke="#000" stroke-width="1.45" stroke-linejoin="round"/><g transform="translate(519.4,113.5) scale(1.000,1.144)"><g transform="translate(0.800,0.800) scale(0.9075,0.8559)"><path d="M5.23,10.36 A3.9,3.9 0 1 1 4.66,2.88 A4.0,4.0 0 0 1 12.50,3.87 A3.7,3.7 0 1 1 12.04,10.75 Q8.2,9.9 5.23,10.36 Z" fill="#d0d0d0" stroke="#2c4d72" stroke-width="1.763" stroke-linejoin="round"/><path d="M12.3,4.3 A3.2,3.2 0 0 0 10.0,6.6" fill="none" stroke="#2c4d72" stroke-width="1.360" stroke-linecap="round"/></g></g>
<path d="M559.8,100.9 A12.72,12.72 0 1 0 559.8,126.2 A17.52,17.52 0 0 1 559.8,100.9 Z" fill="#fff" stroke="#000" stroke-width="1.45" stroke-linejoin="round"/><g transform="translate(550.5,110.5) scale(1.445,1.532)"><g transform="translate(0.623,0.623) scale(0.9280,0.8878)"><path d="M5.23,10.36 A3.9,3.9 0 1 1 4.66,2.88 A4.0,4.0 0 0 1 12.50,3.87 A3.7,3.7 0 1 1 12.04,10.75 Q8.2,9.9 5.23,10.36 Z" fill="#d0d0d0" stroke="#2c4d72" stroke-width="1.342" stroke-linejoin="round"/><path d="M12.3,4.3 A3.2,3.2 0 0 0 10.0,6.6" fill="none" stroke="#2c4d72" stroke-width="1.059" stroke-linecap="round"/></g></g>
<polygon points="595.79,110.57 601.95,106.46 601.23,105.26 594.71,108.77" fill="#f3e51e" stroke="#e6b43c" stroke-width="0.5" stroke-linejoin="round"/><polygon points="595.77,114.49 603.11,115.43 603.36,114.05 596.13,112.42" fill="#f3e51e" stroke="#e6b43c" stroke-width="0.5" stroke-linejoin="round"/><polygon points="593.09,117.48 597.92,123.10 599.03,122.23 594.75,116.19" fill="#f3e51e" stroke="#e6b43c" stroke-width="0.5" stroke-linejoin="round"/><polygon points="588.18,117.58 586.73,124.85 588.09,125.19 590.22,118.09" fill="#f3e51e" stroke="#e6b43c" stroke-width="0.5" stroke-linejoin="round"/><polygon points="585.21,114.25 578.91,118.14 579.59,119.37 586.23,116.08" fill="#f3e51e" stroke="#e6b43c" stroke-width="0.5" stroke-linejoin="round"/><polygon points="585.53,109.97 578.32,108.27 577.94,109.62 584.96,111.99" fill="#f3e51e" stroke="#e6b43c" stroke-width="0.5" stroke-linejoin="round"/><polygon points="588.51,107.28 584.29,101.19 583.10,101.93 586.73,108.39" fill="#f3e51e" stroke="#e6b43c" stroke-width="0.5" stroke-linejoin="round"/><polygon points="593.06,107.50 594.76,100.29 593.41,99.91 591.04,106.92" fill="#f3e51e" stroke="#e6b43c" stroke-width="0.5" stroke-linejoin="round"/><circle cx="590.5" cy="112.5" r="6.2" fill="#f3e51b" stroke="#f2a52a" stroke-width="0.9"/><g transform="translate(590.2,113.0) scale(1.058,1.171)"><g transform="translate(0.804,0.804) scale(0.9071,0.8552)"><path d="M5.23,10.36 A3.9,3.9 0 1 1 4.66,2.88 A4.0,4.0 0 0 1 12.50,3.87 A3.7,3.7 0 1 1 12.04,10.75 Q8.2,9.9 5.23,10.36 Z" fill="#fff" stroke="#2a5fc0" stroke-width="1.772" stroke-linejoin="round"/><path d="M12.3,4.3 A3.2,3.2 0 0 0 10.0,6.6" fill="none" stroke="#2a5fc0" stroke-width="1.366" stroke-linecap="round"/></g></g>
<polygon points="630.32,110.57 636.49,106.46 635.76,105.26 629.24,108.77" fill="#f3e51e" stroke="#e6b43c" stroke-width="0.5" stroke-linejoin="round"/><polygon points="630.30,114.49 637.65,115.43 637.89,114.05 630.67,112.42" fill="#f3e51e" stroke="#e6b43c" stroke-width="0.5" stroke-linejoin="round"/><polygon points="627.63,117.48 632.46,123.10 633.56,122.23 629.28,116.19" fill="#f3e51e" stroke="#e6b43c" stroke-width="0.5" stroke-linejoin="round"/><polygon points="622.72,117.58 621.27,124.85 622.63,125.19 624.76,118.09" fill="#f3e51e" stroke="#e6b43c" stroke-width="0.5" stroke-linejoin="round"/><polygon points="619.75,114.25 613.45,118.14 614.12,119.37 620.77,116.08" fill="#f3e51e" stroke="#e6b43c" stroke-width="0.5" stroke-linejoin="round"/><polygon points="620.07,109.97 612.86,108.27 612.47,109.62 619.49,111.99" fill="#f3e51e" stroke="#e6b43c" stroke-width="0.5" stroke-linejoin="round"/><polygon points="623.04,107.28 618.83,101.19 617.64,101.93 621.26,108.39" fill="#f3e51e" stroke="#e6b43c" stroke-width="0.5" stroke-linejoin="round"/><polygon points="627.59,107.50 629.30,100.29 627.95,99.91 625.57,106.92" fill="#f3e51e" stroke="#e6b43c" stroke-width="0.5" stroke-linejoin="round"/><circle cx="625.1" cy="112.5" r="6.2" fill="#f3e51b" stroke="#f2a52a" stroke-width="0.9"/><g transform="translate(624.8,113.0) scale(1.058,1.171)"><g transform="translate(0.804,0.804) scale(0.9071,0.8552)"><path d="M5.23,10.36 A3.9,3.9 0 1 1 4.66,2.88 A4.0,4.0 0 0 1 12.50,3.87 A3.7,3.7 0 1 1 12.04,10.75 Q8.2,9.9 5.23,10.36 Z" fill="#fff" stroke="#2a5fc0" stroke-width="1.772" stroke-linejoin="round"/><path d="M12.3,4.3 A3.2,3.2 0 0 0 10.0,6.6" fill="none" stroke="#2a5fc0" stroke-width="1.366" stroke-linecap="round"/></g></g>
<path d="M670.1,101.2 A12.67,12.67 0 1 0 670.1,126.3 A15.96,15.96 0 0 1 670.1,101.2 Z" fill="#fff" stroke="#000" stroke-width="1.45" stroke-linejoin="round"/>
<path d="M704.8,101.2 A12.67,12.67 0 1 0 704.8,126.3 A15.96,15.96 0 0 1 704.8,101.2 Z" fill="#fff" stroke="#000" stroke-width="1.45" stroke-linejoin="round"/>
<polygon points="734.13,110.57 740.29,106.46 739.57,105.26 733.05,108.77" fill="#f3e51e" stroke="#e6b43c" stroke-width="0.5" stroke-linejoin="round"/><polygon points="734.11,114.49 741.46,115.43 741.70,114.05 734.47,112.42" fill="#f3e51e" stroke="#e6b43c" stroke-width="0.5" stroke-linejoin="round"/><polygon points="731.43,117.48 736.27,123.10 737.37,122.23 733.09,116.19" fill="#f3e51e" stroke="#e6b43c" stroke-width="0.5" stroke-linejoin="round"/><polygon points="726.53,117.58 725.08,124.85 726.43,125.19 728.56,118.09" fill="#f3e51e" stroke="#e6b43c" stroke-width="0.5" stroke-linejoin="round"/><polygon points="723.56,114.25 717.25,118.14 717.93,119.37 724.57,116.08" fill="#f3e51e" stroke="#e6b43c" stroke-width="0.5" stroke-linejoin="round"/><polygon points="723.88,109.97 716.67,108.27 716.28,109.62 723.30,111.99" fill="#f3e51e" stroke="#e6b43c" stroke-width="0.5" stroke-linejoin="round"/><polygon points="726.85,107.28 722.63,101.19 721.45,101.93 725.07,108.39" fill="#f3e51e" stroke="#e6b43c" stroke-width="0.5" stroke-linejoin="round"/><polygon points="731.40,107.50 733.10,100.29 731.76,99.91 729.38,106.92" fill="#f3e51e" stroke="#e6b43c" stroke-width="0.5" stroke-linejoin="round"/><circle cx="728.9" cy="112.5" r="6.2" fill="#f3e51b" stroke="#f2a52a" stroke-width="0.9"/><g transform="translate(728.6,113.0) scale(1.058,1.171)"><g transform="translate(0.804,0.804) scale(0.9071,0.8552)"><path d="M5.23,10.36 A3.9,3.9 0 1 1 4.66,2.88 A4.0,4.0 0 0 1 12.50,3.87 A3.7,3.7 0 1 1 12.04,10.75 Q8.2,9.9 5.23,10.36 Z" fill="#fff" stroke="#2a5fc0" stroke-width="1.772" stroke-linejoin="round"/><path d="M12.3,4.3 A3.2,3.2 0 0 0 10.0,6.6" fill="none" stroke="#2a5fc0" stroke-width="1.366" stroke-linecap="round"/></g></g>
<polygon points="775.77,110.57 781.93,106.46 781.21,105.26 774.68,108.77" fill="#f3e51e" stroke="#e6b43c" stroke-width="0.5" stroke-linejoin="round"/><polygon points="775.74,114.49 783.09,115.43 783.34,114.05 776.11,112.42" fill="#f3e51e" stroke="#e6b43c" stroke-width="0.5" stroke-linejoin="round"/><polygon points="773.07,117.48 777.90,123.10 779.00,122.23 774.72,116.19" fill="#f3e51e" stroke="#e6b43c" stroke-width="0.5" stroke-linejoin="round"/><polygon points="768.16,117.58 766.71,124.85 768.07,125.19 770.20,118.09" fill="#f3e51e" stroke="#e6b43c" stroke-width="0.5" stroke-linejoin="round"/><polygon points="765.19,114.25 758.89,118.14 759.57,119.37 766.21,116.08" fill="#f3e51e" stroke="#e6b43c" stroke-width="0.5" stroke-linejoin="round"/><polygon points="765.51,109.97 758.30,108.27 757.92,109.62 764.93,111.99" fill="#f3e51e" stroke="#e6b43c" stroke-width="0.5" stroke-linejoin="round"/><polygon points="768.49,107.28 764.27,101.19 763.08,101.93 766.71,108.39" fill="#f3e51e" stroke="#e6b43c" stroke-width="0.5" stroke-linejoin="round"/><polygon points="773.04,107.50 774.74,100.29 773.39,99.91 771.02,106.92" fill="#f3e51e" stroke="#e6b43c" stroke-width="0.5" stroke-linejoin="round"/><circle cx="770.5" cy="112.5" r="6.2" fill="#f3e51b" stroke="#f2a52a" stroke-width="0.9"/><g transform="translate(750.2,112.8) scale(1.318,1.396)"><g transform="translate(0.683,0.683) scale(0.9211,0.8770)"><path d="M5.23,10.36 A3.9,3.9 0 1 1 4.66,2.88 A4.0,4.0 0 0 1 12.50,3.87 A3.7,3.7 0 1 1 12.04,10.75 Q8.2,9.9 5.23,10.36 Z" fill="#d0d0d0" stroke="#2a5fc0" stroke-width="1.483" stroke-linejoin="round"/><path d="M12.3,4.3 A3.2,3.2 0 0 0 10.0,6.6" fill="none" stroke="#2a5fc0" stroke-width="1.161" stroke-linecap="round"/></g></g>
<path d="M804.1,100.9 A12.68,12.68 0 1 0 804.1,126.2 A18.78,18.78 0 0 1 804.1,100.9 Z" fill="#fff" stroke="#000" stroke-width="1.45" stroke-linejoin="round"/><g transform="translate(796.0,113.5) scale(1.000,1.144)"><g transform="translate(0.800,0.800) scale(0.9075,0.8559)"><path d="M5.23,10.36 A3.9,3.9 0 1 1 4.66,2.88 A4.0,4.0 0 0 1 12.50,3.87 A3.7,3.7 0 1 1 12.04,10.75 Q8.2,9.9 5.23,10.36 Z" fill="#d0d0d0" stroke="#2c4d72" stroke-width="1.763" stroke-linejoin="round"/><path d="M12.3,4.3 A3.2,3.2 0 0 0 10.0,6.6" fill="none" stroke="#2c4d72" stroke-width="1.360" stroke-linecap="round"/></g></g>
<path d="M843.2,101.2 A12.67,12.67 0 1 0 843.2,126.3 A15.96,15.96 0 0 1 843.2,101.2 Z" fill="#fff" stroke="#000" stroke-width="1.45" stroke-linejoin="round"/>
<polygon points="872.47,110.57 878.64,106.46 877.91,105.26 871.39,108.77" fill="#f3e51e" stroke="#e6b43c" stroke-width="0.5" stroke-linejoin="round"/><polygon points="872.45,114.49 879.80,115.43 880.04,114.05 872.82,112.42" fill="#f3e51e" stroke="#e6b43c" stroke-width="0.5" stroke-linejoin="round"/><polygon points="869.78,117.48 874.61,123.10 875.71,122.23 871.43,116.19" fill="#f3e51e" stroke="#e6b43c" stroke-width="0.5" stroke-linejoin="round"/><polygon points="864.87,117.58 863.42,124.85 864.78,125.19 866.91,118.09" fill="#f3e51e" stroke="#e6b43c" stroke-width="0.5" stroke-linejoin="round"/><polygon points="861.90,114.25 855.60,118.14 856.27,119.37 862.92,116.08" fill="#f3e51e" stroke="#e6b43c" stroke-width="0.5" stroke-linejoin="round"/><polygon points="862.22,109.97 855.01,108.27 854.62,109.62 861.64,111.99" fill="#f3e51e" stroke="#e6b43c" stroke-width="0.5" stroke-linejoin="round"/><polygon points="865.19,107.28 860.98,101.19 859.79,101.93 863.41,108.39" fill="#f3e51e" stroke="#e6b43c" stroke-width="0.5" stroke-linejoin="round"/><polygon points="869.74,107.50 871.45,100.29 870.10,99.91 867.72,106.92" fill="#f3e51e" stroke="#e6b43c" stroke-width="0.5" stroke-linejoin="round"/><circle cx="867.2" cy="112.5" r="6.2" fill="#f3e51b" stroke="#f2a52a" stroke-width="0.9"/><g transform="translate(866.9,113.0) scale(1.058,1.171)"><g transform="translate(0.804,0.804) scale(0.9071,0.8552)"><path d="M5.23,10.36 A3.9,3.9 0 1 1 4.66,2.88 A4.0,4.0 0 0 1 12.50,3.87 A3.7,3.7 0 1 1 12.04,10.75 Q8.2,9.9 5.23,10.36 Z" fill="#fff" stroke="#2a5fc0" stroke-width="1.772" stroke-linejoin="round"/><path d="M12.3,4.3 A3.2,3.2 0 0 0 10.0,6.6" fill="none" stroke="#2a5fc0" stroke-width="1.366" stroke-linecap="round"/></g></g>
<polygon points="914.11,110.57 920.27,106.46 919.55,105.26 913.03,108.77" fill="#f3e51e" stroke="#e6b43c" stroke-width="0.5" stroke-linejoin="round"/><polygon points="914.09,114.49 921.44,115.43 921.68,114.05 914.45,112.42" fill="#f3e51e" stroke="#e6b43c" stroke-width="0.5" stroke-linejoin="round"/><polygon points="911.41,117.48 916.24,123.10 917.35,122.23 913.07,116.19" fill="#f3e51e" stroke="#e6b43c" stroke-width="0.5" stroke-linejoin="round"/><polygon points="906.50,117.58 905.05,124.85 906.41,125.19 908.54,118.09" fill="#f3e51e" stroke="#e6b43c" stroke-width="0.5" stroke-linejoin="round"/><polygon points="903.53,114.25 897.23,118.14 897.91,119.37 904.55,116.08" fill="#f3e51e" stroke="#e6b43c" stroke-width="0.5" stroke-linejoin="round"/><polygon points="903.86,109.97 896.65,108.27 896.26,109.62 903.28,111.99" fill="#f3e51e" stroke="#e6b43c" stroke-width="0.5" stroke-linejoin="round"/><polygon points="906.83,107.28 902.61,101.19 901.42,101.93 905.05,108.39" fill="#f3e51e" stroke="#e6b43c" stroke-width="0.5" stroke-linejoin="round"/><polygon points="911.38,107.50 913.08,100.29 911.74,99.91 909.36,106.92" fill="#f3e51e" stroke="#e6b43c" stroke-width="0.5" stroke-linejoin="round"/><circle cx="908.9" cy="112.5" r="6.2" fill="#f3e51b" stroke="#f2a52a" stroke-width="0.9"/><g transform="translate(888.6,112.8) scale(1.318,1.396)"><g transform="translate(0.683,0.683) scale(0.9211,0.8770)"><path d="M5.23,10.36 A3.9,3.9 0 1 1 4.66,2.88 A4.0,4.0 0 0 1 12.50,3.87 A3.7,3.7 0 1 1 12.04,10.75 Q8.2,9.9 5.23,10.36 Z" fill="#d0d0d0" stroke="#2a5fc0" stroke-width="1.483" stroke-linejoin="round"/><path d="M12.3,4.3 A3.2,3.2 0 0 0 10.0,6.6" fill="none" stroke="#2a5fc0" stroke-width="1.161" stroke-linecap="round"/></g></g>
<path d="M940.1,100.9 A12.72,12.72 0 1 0 940.1,126.2 A17.52,17.52 0 0 1 940.1,100.9 Z" fill="#fff" stroke="#000" stroke-width="1.45" stroke-linejoin="round"/><g transform="translate(930.8,110.5) scale(1.445,1.532)"><g transform="translate(0.623,0.623) scale(0.9280,0.8878)"><path d="M5.23,10.36 A3.9,3.9 0 1 1 4.66,2.88 A4.0,4.0 0 0 1 12.50,3.87 A3.7,3.7 0 1 1 12.04,10.75 Q8.2,9.9 5.23,10.36 Z" fill="#d0d0d0" stroke="#2c4d72" stroke-width="1.342" stroke-linejoin="round"/><path d="M12.3,4.3 A3.2,3.2 0 0 0 10.0,6.6" fill="none" stroke="#2c4d72" stroke-width="1.059" stroke-linecap="round"/></g></g>
<path d="M977.2,100.9 A12.68,12.68 0 1 0 977.2,126.2 A18.78,18.78 0 0 1 977.2,100.9 Z" fill="#fff" stroke="#000" stroke-width="1.45" stroke-linejoin="round"/><g transform="translate(969.1,113.5) scale(1.000,1.144)"><g transform="translate(0.800,0.800) scale(0.9075,0.8559)"><path d="M5.23,10.36 A3.9,3.9 0 1 1 4.66,2.88 A4.0,4.0 0 0 1 12.50,3.87 A3.7,3.7 0 1 1 12.04,10.75 Q8.2,9.9 5.23,10.36 Z" fill="#d0d0d0" stroke="#2c4d72" stroke-width="1.763" stroke-linejoin="round"/><path d="M12.3,4.3 A3.2,3.2 0 0 0 10.0,6.6" fill="none" stroke="#2c4d72" stroke-width="1.360" stroke-linecap="round"/></g></g>
<polygon points="1010.82,110.57 1016.98,106.46 1016.26,105.26 1009.73,108.77" fill="#f3e51e" stroke="#e6b43c" stroke-width="0.5" stroke-linejoin="round"/><polygon points="1010.79,114.49 1018.14,115.43 1018.39,114.05 1011.16,112.42" fill="#f3e51e" stroke="#e6b43c" stroke-width="0.5" stroke-linejoin="round"/><polygon points="1008.12,117.48 1012.95,123.10 1014.05,122.23 1009.77,116.19" fill="#f3e51e" stroke="#e6b43c" stroke-width="0.5" stroke-linejoin="round"/><polygon points="1003.21,117.58 1001.76,124.85 1003.12,125.19 1005.25,118.09" fill="#f3e51e" stroke="#e6b43c" stroke-width="0.5" stroke-linejoin="round"/><polygon points="1000.24,114.25 993.94,118.14 994.62,119.37 1001.26,116.08" fill="#f3e51e" stroke="#e6b43c" stroke-width="0.5" stroke-linejoin="round"/><polygon points="1000.56,109.97 993.35,108.27 992.97,109.62 999.98,111.99" fill="#f3e51e" stroke="#e6b43c" stroke-width="0.5" stroke-linejoin="round"/><polygon points="1003.54,107.28 999.32,101.19 998.13,101.93 1001.76,108.39" fill="#f3e51e" stroke="#e6b43c" stroke-width="0.5" stroke-linejoin="round"/><polygon points="1008.09,107.50 1009.79,100.29 1008.44,99.91 1006.07,106.92" fill="#f3e51e" stroke="#e6b43c" stroke-width="0.5" stroke-linejoin="round"/><circle cx="1005.6" cy="112.5" r="6.2" fill="#f3e51b" stroke="#f2a52a" stroke-width="0.9"/><g transform="translate(1005.3,113.0) scale(1.058,1.171)"><g transform="translate(0.804,0.804) scale(0.9071,0.8552)"><path d="M5.23,10.36 A3.9,3.9 0 1 1 4.66,2.88 A4.0,4.0 0 0 1 12.50,3.87 A3.7,3.7 0 1 1 12.04,10.75 Q8.2,9.9 5.23,10.36 Z" fill="#fff" stroke="#2a5fc0" stroke-width="1.772" stroke-linejoin="round"/><path d="M12.3,4.3 A3.2,3.2 0 0 0 10.0,6.6" fill="none" stroke="#2a5fc0" stroke-width="1.366" stroke-linecap="round"/></g></g>
<polygon points="1045.35,110.57 1051.51,106.46 1050.79,105.26 1044.27,108.77" fill="#f3e51e" stroke="#e6b43c" stroke-width="0.5" stroke-linejoin="round"/><polygon points="1045.33,114.49 1052.68,115.43 1052.92,114.05 1045.70,112.42" fill="#f3e51e" stroke="#e6b43c" stroke-width="0.5" stroke-linejoin="round"/><polygon points="1042.66,117.48 1047.49,123.10 1048.59,122.23 1044.31,116.19" fill="#f3e51e" stroke="#e6b43c" stroke-width="0.5" stroke-linejoin="round"/><polygon points="1037.75,117.58 1036.30,124.85 1037.65,125.19 1039.78,118.09" fill="#f3e51e" stroke="#e6b43c" stroke-width="0.5" stroke-linejoin="round"/><polygon points="1034.78,114.25 1028.47,118.14 1029.15,119.37 1035.80,116.08" fill="#f3e51e" stroke="#e6b43c" stroke-width="0.5" stroke-linejoin="round"/><polygon points="1035.10,109.97 1027.89,108.27 1027.50,109.62 1034.52,111.99" fill="#f3e51e" stroke="#e6b43c" stroke-width="0.5" stroke-linejoin="round"/><polygon points="1038.07,107.28 1033.85,101.19 1032.67,101.93 1036.29,108.39" fill="#f3e51e" stroke="#e6b43c" stroke-width="0.5" stroke-linejoin="round"/><polygon points="1042.62,107.50 1044.33,100.29 1042.98,99.91 1040.60,106.92" fill="#f3e51e" stroke="#e6b43c" stroke-width="0.5" stroke-linejoin="round"/><circle cx="1040.1" cy="112.5" r="6.2" fill="#f3e51b" stroke="#f2a52a" stroke-width="0.9"/><g transform="translate(1039.8,113.0) scale(1.058,1.171)"><g transform="translate(0.804,0.804) scale(0.9071,0.8552)"><path d="M5.23,10.36 A3.9,3.9 0 1 1 4.66,2.88 A4.0,4.0 0 0 1 12.50,3.87 A3.7,3.7 0 1 1 12.04,10.75 Q8.2,9.9 5.23,10.36 Z" fill="#fff" stroke="#2a5fc0" stroke-width="1.772" stroke-linejoin="round"/><path d="M12.3,4.3 A3.2,3.2 0 0 0 10.0,6.6" fill="none" stroke="#2a5fc0" stroke-width="1.366" stroke-linecap="round"/></g></g>
<path d="M1078.4,100.9 A12.72,12.72 0 1 0 1078.4,126.2 A17.52,17.52 0 0 1 1078.4,100.9 Z" fill="#fff" stroke="#000" stroke-width="1.45" stroke-linejoin="round"/><g transform="translate(1069.1,110.5) scale(1.445,1.532)"><g transform="translate(0.623,0.623) scale(0.9280,0.8878)"><path d="M5.23,10.36 A3.9,3.9 0 1 1 4.66,2.88 A4.0,4.0 0 0 1 12.50,3.87 A3.7,3.7 0 1 1 12.04,10.75 Q8.2,9.9 5.23,10.36 Z" fill="#d0d0d0" stroke="#2c4d72" stroke-width="1.342" stroke-linejoin="round"/><path d="M12.3,4.3 A3.2,3.2 0 0 0 10.0,6.6" fill="none" stroke="#2c4d72" stroke-width="1.059" stroke-linecap="round"/></g></g>
<circle cx="126.7" cy="153.1" r="3.4" fill="none" stroke="#000" stroke-width="1.8"/>
<circle cx="144.0" cy="153.1" r="3.4" fill="none" stroke="#000" stroke-width="1.8"/>
<path d="M150.5,159.3 L172.0,146.9 M168.3,149.1 L171.9,151.8" stroke="#000" stroke-width="1.8" stroke-linecap="round" fill="none"/>
<path d="M168.0,159.7 L189.0,146.5 M185.4,148.8 L189.1,151.4" stroke="#000" stroke-width="1.8" stroke-linecap="round" fill="none"/>
<path d="M185.3,159.7 L206.3,146.5 M202.6,148.8 L206.4,151.4" stroke="#000" stroke-width="1.8" stroke-linecap="round" fill="none"/>
<path d="M202.3,159.3 L223.8,146.9 M220.1,149.1 L223.7,151.8" stroke="#000" stroke-width="1.8" stroke-linecap="round" fill="none"/>
<circle cx="230.3" cy="153.1" r="3.4" fill="none" stroke="#000" stroke-width="1.8"/>
<path d="M236.8,159.3 L258.3,146.9 M254.6,149.1 L258.3,151.8" stroke="#000" stroke-width="1.8" stroke-linecap="round" fill="none"/>
<path d="M254.1,159.3 L275.6,146.9 M271.9,149.1 L275.5,151.8" stroke="#000" stroke-width="1.8" stroke-linecap="round" fill="none"/>
<path d="M271.4,159.3 L292.8,146.9 M289.1,149.1 L292.8,151.8" stroke="#000" stroke-width="1.8" stroke-linecap="round" fill="none"/>
<path d="M288.6,159.3 L310.1,146.9 M306.4,149.1 L310.1,151.8" stroke="#000" stroke-width="1.8" stroke-linecap="round" fill="none"/>
<path d="M305.9,159.3 L327.4,146.9 M323.7,149.1 L327.3,151.8" stroke="#000" stroke-width="1.8" stroke-linecap="round" fill="none"/>
<circle cx="333.9" cy="153.1" r="3.4" fill="none" stroke="#000" stroke-width="1.8"/>
<circle cx="351.2" cy="153.1" r="3.4" fill="none" stroke="#000" stroke-width="1.8"/>
<circle cx="368.4" cy="153.1" r="3.4" fill="none" stroke="#000" stroke-width="1.8"/>
<circle cx="385.7" cy="153.1" r="3.4" fill="none" stroke="#000" stroke-width="1.8"/>
<path d="M392.2,159.3 L413.7,146.9 M410.0,149.1 L413.7,151.8" stroke="#000" stroke-width="1.8" stroke-linecap="round" fill="none"/>
<path d="M409.5,159.3 L431.0,146.9 M427.3,149.1 L430.9,151.8" stroke="#000" stroke-width="1.8" stroke-linecap="round" fill="none"/>
<path d="M426.8,159.3 L448.3,146.9 M444.5,149.1 L448.2,151.8" stroke="#000" stroke-width="1.8" stroke-linecap="round" fill="none"/>
<path d="M444.1,159.3 L465.5,146.9 M461.8,149.1 L465.5,151.8" stroke="#000" stroke-width="1.8" stroke-linecap="round" fill="none"/>
<path d="M460.4,157.3 L483.7,148.9 M479.7,150.3 L482.8,153.7" stroke="#000" stroke-width="1.8" stroke-linecap="round" fill="none"/>
<path d="M477.0,154.8 L501.6,151.4 M497.3,152.0 L499.7,155.9" stroke="#000" stroke-width="1.8" stroke-linecap="round" fill="none"/>
<circle cx="506.6" cy="153.1" r="3.4" fill="none" stroke="#000" stroke-width="1.8"/>
<path d="M513.1,159.3 L534.6,146.9 M530.9,149.1 L534.5,151.8" stroke="#000" stroke-width="1.8" stroke-linecap="round" fill="none"/>
<path d="M530.4,159.3 L551.9,146.9 M548.1,149.1 L551.8,151.8" stroke="#000" stroke-width="1.8" stroke-linecap="round" fill="none"/>
<path d="M547.7,159.3 L569.1,146.9 M565.4,149.1 L569.1,151.8" stroke="#000" stroke-width="1.8" stroke-linecap="round" fill="none"/>
<path d="M564.9,159.3 L586.4,146.9 M582.7,149.1 L586.4,151.8" stroke="#000" stroke-width="1.8" stroke-linecap="round" fill="none"/>
<path d="M582.2,159.3 L603.7,146.9 M599.9,149.1 L603.6,151.8" stroke="#000" stroke-width="1.8" stroke-linecap="round" fill="none"/>
<path d="M599.3,158.9 L621.1,147.3 M617.4,149.3 L620.9,152.2" stroke="#000" stroke-width="1.8" stroke-linecap="round" fill="none"/>
<path d="M616.4,158.7 L638.5,147.5 M634.7,149.4 L638.2,152.4" stroke="#000" stroke-width="1.8" stroke-linecap="round" fill="none"/>
<path d="M633.7,158.7 L655.8,147.5 M652.0,149.4 L655.5,152.4" stroke="#000" stroke-width="1.8" stroke-linecap="round" fill="none"/>
<path d="M651.1,158.9 L673.0,147.3 M669.2,149.3 L672.7,152.2" stroke="#000" stroke-width="1.8" stroke-linecap="round" fill="none"/>
<path d="M668.5,159.3 L690.0,146.9 M686.3,149.1 L690.0,151.8" stroke="#000" stroke-width="1.8" stroke-linecap="round" fill="none"/>
<path d="M685.8,159.3 L707.3,146.9 M703.6,149.1 L707.2,151.8" stroke="#000" stroke-width="1.8" stroke-linecap="round" fill="none"/>
<path d="M703.1,159.3 L724.5,146.9 M720.8,149.1 L724.5,151.8" stroke="#000" stroke-width="1.8" stroke-linecap="round" fill="none"/>
<path d="M720.3,159.3 L741.8,146.9 M738.1,149.1 L741.8,151.8" stroke="#000" stroke-width="1.8" stroke-linecap="round" fill="none"/>
<path d="M737.6,159.3 L759.1,146.9 M755.4,149.1 L759.0,151.8" stroke="#000" stroke-width="1.8" stroke-linecap="round" fill="none"/>
<path d="M754.9,159.3 L776.3,146.9 M772.6,149.1 L776.3,151.8" stroke="#000" stroke-width="1.8" stroke-linecap="round" fill="none"/>
<path d="M772.1,159.3 L793.6,146.9 M789.9,149.1 L793.6,151.8" stroke="#000" stroke-width="1.8" stroke-linecap="round" fill="none"/>
<path d="M789.4,159.3 L810.9,146.9 M807.2,149.1 L810.8,151.8" stroke="#000" stroke-width="1.8" stroke-linecap="round" fill="none"/>
<path d="M806.7,159.3 L828.2,146.9 M824.4,149.1 L828.1,151.8" stroke="#000" stroke-width="1.8" stroke-linecap="round" fill="none"/>
<path d="M823.7,158.9 L845.6,147.3 M841.8,149.3 L845.4,152.2" stroke="#000" stroke-width="1.8" stroke-linecap="round" fill="none"/>
<path d="M841.0,158.9 L862.9,147.3 M859.1,149.3 L862.7,152.2" stroke="#000" stroke-width="1.8" stroke-linecap="round" fill="none"/>
<path d="M858.3,158.9 L880.2,147.3 M876.4,149.3 L879.9,152.2" stroke="#000" stroke-width="1.8" stroke-linecap="round" fill="none"/>
<circle cx="886.5" cy="153.1" r="3.4" fill="none" stroke="#000" stroke-width="1.8"/>
<circle cx="903.8" cy="153.1" r="3.4" fill="none" stroke="#000" stroke-width="1.8"/>
<circle cx="921.0" cy="153.1" r="3.4" fill="none" stroke="#000" stroke-width="1.8"/>
<circle cx="938.3" cy="153.1" r="3.4" fill="none" stroke="#000" stroke-width="1.8"/>
<path d="M944.6,158.9 L966.5,147.3 M962.7,149.3 L966.3,152.2" stroke="#000" stroke-width="1.8" stroke-linecap="round" fill="none"/>
<path d="M961.3,157.7 L984.3,148.5 M980.3,150.1 L983.6,153.3" stroke="#000" stroke-width="1.8" stroke-linecap="round" fill="none"/>
<path d="M978.6,157.7 L1001.6,148.5 M997.6,150.1 L1000.9,153.3" stroke="#000" stroke-width="1.8" stroke-linecap="round" fill="none"/>
<path d="M996.1,158.3 L1018.6,147.9 M1014.7,149.7 L1018.1,152.8" stroke="#000" stroke-width="1.8" stroke-linecap="round" fill="none"/>
<circle cx="1024.6" cy="153.1" r="3.4" fill="none" stroke="#000" stroke-width="1.8"/>
<circle cx="1041.9" cy="153.1" r="3.4" fill="none" stroke="#000" stroke-width="1.8"/>
<circle cx="1059.2" cy="153.1" r="3.4" fill="none" stroke="#000" stroke-width="1.8"/>
<circle cx="1076.4" cy="153.1" r="3.4" fill="none" stroke="#000" stroke-width="1.8"/>
<path d="M1082.2,157.7 L1105.2,148.5 M1101.2,150.1 L1104.5,153.3" stroke="#000" stroke-width="1.8" stroke-linecap="round" fill="none"/>
<rect x="127.5" y="97.5" width="967.0" height="261.6" fill="none" stroke="#000" stroke-width="1.15"/>
<path d="M144.8,359.1 V354.4 M162.0,359.1 V349.6 M179.3,359.1 V354.4 M196.6,359.1 V349.6 M213.8,359.1 V354.4 M231.1,359.1 V349.6 M248.4,359.1 V354.4 M282.9,359.1 V354.4 M300.2,359.1 V349.6 M317.4,359.1 V354.4 M334.7,359.1 V349.6 M352.0,359.1 V354.4 M369.2,359.1 V349.6 M386.5,359.1 V354.4 M421.1,359.1 V354.4 M438.3,359.1 V349.6 M455.6,359.1 V354.4 M472.9,359.1 V349.6 M490.1,359.1 V354.4 M507.4,359.1 V349.6 M524.7,359.1 V354.4 M559.2,359.1 V354.4 M576.5,359.1 V349.6 M593.7,359.1 V354.4 M611.0,359.1 V349.6 M628.3,359.1 V354.4 M645.5,359.1 V349.6 M662.8,359.1 V354.4 M697.3,359.1 V354.4 M714.6,359.1 V349.6 M731.9,359.1 V354.4 M749.1,359.1 V349.6 M766.4,359.1 V354.4 M783.7,359.1 V349.6 M800.9,359.1 V354.4 M835.5,359.1 V354.4 M852.8,359.1 V349.6 M870.0,359.1 V354.4 M887.3,359.1 V349.6 M904.6,359.1 V354.4 M921.8,359.1 V349.6 M939.1,359.1 V354.4 M973.6,359.1 V354.4 M990.9,359.1 V349.6 M1008.2,359.1 V354.4 M1025.4,359.1 V349.6 M1042.7,359.1 V354.4 M1060.0,359.1 V349.6 M1077.2,359.1 V354.4" stroke="#000" stroke-width="1" fill="none"/>
<text x="160.8" y="377" text-anchor="middle" style='font-family:"DejaVu Sans",sans-serif;font-size:17.3px'>06</text>
<text x="195.3" y="377" text-anchor="middle" style='font-family:"DejaVu Sans",sans-serif;font-size:17.3px'>12</text>
<text x="229.9" y="377" text-anchor="middle" style='font-family:"DejaVu Sans",sans-serif;font-size:17.3px'>18</text>
<text x="299.0" y="377" text-anchor="middle" style='font-family:"DejaVu Sans",sans-serif;font-size:17.3px'>06</text>
<text x="333.6" y="377" text-anchor="middle" style='font-family:"DejaVu Sans",sans-serif;font-size:17.3px'>12</text>
<text x="368.2" y="377" text-anchor="middle" style='font-family:"DejaVu Sans",sans-serif;font-size:17.3px'>18</text>
<text x="264.5" y="377" text-anchor="middle" style='font-family:"DejaVu Sans",sans-serif;font-size:17.3px'>tor</text>
<text x="437.3" y="377" text-anchor="middle" style='font-family:"DejaVu Sans",sans-serif;font-size:17.3px'>06</text>
<text x="471.9" y="377" text-anchor="middle" style='font-family:"DejaVu Sans",sans-serif;font-size:17.3px'>12</text>
<text x="506.5" y="377" text-anchor="middle" style='font-family:"DejaVu Sans",sans-serif;font-size:17.3px'>18</text>
<text x="402.8" y="377" text-anchor="middle" style='font-family:"DejaVu Sans",sans-serif;font-size:17.3px'>sre</text>
<text x="575.6" y="377" text-anchor="middle" style='font-family:"DejaVu Sans",sans-serif;font-size:17.3px'>06</text>
<text x="610.2" y="377" text-anchor="middle" style='font-family:"DejaVu Sans",sans-serif;font-size:17.3px'>12</text>
<text x="644.7" y="377" text-anchor="middle" style='font-family:"DejaVu Sans",sans-serif;font-size:17.3px'>18</text>
<text x="541.0" y="377" text-anchor="middle" style='font-family:"DejaVu Sans",sans-serif;font-size:17.3px'>čet</text>
<text x="713.9" y="377" text-anchor="middle" style='font-family:"DejaVu Sans",sans-serif;font-size:17.3px'>06</text>
<text x="748.4" y="377" text-anchor="middle" style='font-family:"DejaVu Sans",sans-serif;font-size:17.3px'>12</text>
<text x="783.0" y="377" text-anchor="middle" style='font-family:"DejaVu Sans",sans-serif;font-size:17.3px'>18</text>
<text x="679.3" y="377" text-anchor="middle" style='font-family:"DejaVu Sans",sans-serif;font-size:17.3px'>pet</text>
<text x="852.2" y="377" text-anchor="middle" style='font-family:"DejaVu Sans",sans-serif;font-size:17.3px'>06</text>
<text x="886.7" y="377" text-anchor="middle" style='font-family:"DejaVu Sans",sans-serif;font-size:17.3px'>12</text>
<text x="921.3" y="377" text-anchor="middle" style='font-family:"DejaVu Sans",sans-serif;font-size:17.3px'>18</text>
<text x="817.6" y="377" text-anchor="middle" style='font-family:"DejaVu Sans",sans-serif;font-size:17.3px'>sob</text>
<text x="990.4" y="377" text-anchor="middle" style='font-family:"DejaVu Sans",sans-serif;font-size:17.3px'>06</text>
<text x="1025.0" y="377" text-anchor="middle" style='font-family:"DejaVu Sans",sans-serif;font-size:17.3px'>12</text>
<text x="1059.6" y="377" text-anchor="middle" style='font-family:"DejaVu Sans",sans-serif;font-size:17.3px'>18</text>
<text x="955.9" y="377" text-anchor="middle" style='font-family:"DejaVu Sans",sans-serif;font-size:17.3px'>ned</text>
<text x="195.6" y="69" text-anchor="middle" style='font-family:"DejaVu Sans",sans-serif;font-size:18px' fill="#000">ponedeljek</text>
<text x="195.6" y="89.6" text-anchor="middle" style='font-family:"DejaVu Sans",sans-serif;font-size:18px' fill="#000">13.10</text>
<text x="333.9" y="69" text-anchor="middle" style='font-family:"DejaVu Sans",sans-serif;font-size:18px' fill="#000">torek</text>
<text x="333.9" y="89.6" text-anchor="middle" style='font-family:"DejaVu Sans",sans-serif;font-size:18px' fill="#000">14.10</text>
<text x="472.3" y="69" text-anchor="middle" style='font-family:"DejaVu Sans",sans-serif;font-size:18px' fill="#000">sreda</text>
<text x="472.3" y="89.6" text-anchor="middle" style='font-family:"DejaVu Sans",sans-serif;font-size:18px' fill="#000">15.10</text>
<text x="610.6" y="69" text-anchor="middle" style='font-family:"DejaVu Sans",sans-serif;font-size:18px' fill="#000">četrtek</text>
<text x="610.6" y="89.6" text-anchor="middle" style='font-family:"DejaVu Sans",sans-serif;font-size:18px' fill="#000">16.10</text>
<text x="749.0" y="69" text-anchor="middle" style='font-family:"DejaVu Sans",sans-serif;font-size:18px' fill="#000">petek</text>
<text x="749.0" y="89.6" text-anchor="middle" style='font-family:"DejaVu Sans",sans-serif;font-size:18px' fill="#000">17.10</text>
<text x="887.4" y="69" text-anchor="middle" style='font-family:"DejaVu Sans",sans-serif;font-size:18px' fill="#cc0000">sobota</text>
<text x="887.4" y="89.6" text-anchor="middle" style='font-family:"DejaVu Sans",sans-serif;font-size:18px' fill="#cc0000">18.10</text>
<text x="1025.7" y="69" text-anchor="middle" style='font-family:"DejaVu Sans",sans-serif;font-size:18px' fill="#cc0000">nedelja</text>
<text x="1025.7" y="89.6" text-anchor="middle" style='font-family:"DejaVu Sans",sans-serif;font-size:18px' fill="#cc0000">19.10</text>
<text x="123.5" y="366.1" text-anchor="end" style='font-family:"DejaVu Sans",sans-serif;font-size:18px'>0</text>
<text x="123.5" y="328.8" text-anchor="end" style='font-family:"DejaVu Sans",sans-serif;font-size:18px'>1</text>
<text x="123.5" y="291.5" text-anchor="end" style='font-family:"DejaVu Sans",sans-serif;font-size:18px'>2</text>
<text x="123.5" y="254.2" text-anchor="end" style='font-family:"DejaVu Sans",sans-serif;font-size:18px'>3</text>
<text x="123.5" y="216.9" text-anchor="end" style='font-family:"DejaVu Sans",sans-serif;font-size:18px'>4</text>
<text x="123.5" y="179.6" text-anchor="end" style='font-family:"DejaVu Sans",sans-serif;font-size:18px'>5</text>
<text x="46" y="366.1" style='font-family:"DejaVu Sans",sans-serif;font-size:18px' fill="#ff0000">0</text>
<text x="46" y="328.8" style='font-family:"DejaVu Sans",sans-serif;font-size:18px' fill="#ff0000">5</text>
<text x="46" y="291.5" style='font-family:"DejaVu Sans",sans-serif;font-size:18px' fill="#ff0000">10</text>
<text x="46" y="254.2" style='font-family:"DejaVu Sans",sans-serif;font-size:18px' fill="#ff0000">15</text>
<text x="46" y="216.9" style='font-family:"DejaVu Sans",sans-serif;font-size:18px' fill="#ff0000">20</text>
<text x="46" y="179.6" style='font-family:"DejaVu Sans",sans-serif;font-size:18px' fill="#ff0000">25</text>
<text x="1099.1" y="366.1" style='font-family:"DejaVu Sans",sans-serif;font-size:18px'>0</text>
<text x="1099.1" y="328.8" style='font-family:"DejaVu Sans",sans-serif;font-size:18px'>1.5</text>
<text x="1099.1" y="291.5" style='font-family:"DejaVu Sans",sans-serif;font-size:18px'>3.5</text>
<text x="1099.1" y="254.2" style='font-family:"DejaVu Sans",sans-serif;font-size:18px'>6.0</text>
<text x="1099.1" y="216.9" style='font-family:"DejaVu Sans",sans-serif;font-size:18px'>9.0</text>
<text x="1099.1" y="179.6" style='font-family:"DejaVu Sans",sans-serif;font-size:18px'>14</text>
<text transform="translate(35.2,267.2) rotate(-90)" text-anchor="middle" style='font-family:"DejaVu Sans",sans-serif;font-size:20px;letter-spacing:-0.55px' fill="#ff0000">Temperatura (°C)</text>
<text transform="translate(100.2,263.6) rotate(-90)" text-anchor="middle" style='font-family:"DejaVu Sans",sans-serif;font-size:20px;letter-spacing:-0.45px'>Padavine (mm/h)</text>
<text transform="translate(1146.2,254.2) rotate(-90)" text-anchor="middle" style='font-family:"DejaVu Sans",sans-serif;font-size:20px;letter-spacing:-0.42px'>Višina oblakov (km)</text>
<rect x="127" y="390" width="32" height="10.6" fill="#0050ff"/>
<rect x="164.5" y="386" width="105.5" height="19.8" fill="#fff"/>
<text x="168.4" y="402" style='font-family:"Liberation Sans",Arial,sans-serif;font-size:18.8px;letter-spacing:1.1px'>Dež</text>
<rect x="277.8" y="390" width="32" height="10.6" fill="#10d8c8"/>
<rect x="310.4" y="386" width="109.5" height="19.8" fill="#fff"/>
<text x="318.2" y="401.8" style='font-family:"Liberation Sans",Arial,sans-serif;font-size:18.8px;letter-spacing:0.5px'>Možnost ploh</text>
<text x="499.6" y="401.7" style='font-family:"Liberation Sans",Arial,sans-serif;font-size:15.8px' fill="#0000ff">© vreme.us &amp; vreme.pro</text>
<rect x="758" y="386" width="182" height="19.8" fill="#fff"/>
<text x="759.3" y="402" style='font-family:"Liberation Sans",Arial,sans-serif;font-size:18.8px;letter-spacing:0.3px'>Gostota oblakov (%)</text>
<rect x="949.2" y="385.2" width="29.1" height="13.2" fill="#d4d4d4"/>
<rect x="978.3" y="385.2" width="29.1" height="13.2" fill="#b3b3b3"/>
<rect x="1007.4" y="385.2" width="29.1" height="13.2" fill="#959595"/>
<rect x="1036.5" y="385.2" width="29.1" height="13.2" fill="#757575"/>
<rect x="1065.6" y="385.2" width="29.1" height="13.2" fill="#585858"/>
<rect x="949.2" y="385.2" width="145.5" height="13.2" fill="none" stroke="#222" stroke-width="1"/>
<text x="949.2" y="415" text-anchor="middle" style='font-family:"DejaVu Sans",sans-serif;font-size:16px'>10</text>
<text x="978.3" y="415" text-anchor="middle" style='font-family:"DejaVu Sans",sans-serif;font-size:16px'>25</text>
<text x="1007.4" y="415" text-anchor="middle" style='font-family:"DejaVu Sans",sans-serif;font-size:16px'>50</text>
<text x="1036.5" y="415" text-anchor="middle" style='font-family:"DejaVu Sans",sans-serif;font-size:16px'>75</text>
<text x="1065.6" y="415" text-anchor="middle" style='font-family:"DejaVu Sans",sans-serif;font-size:16px'>90</text>
<text x="1094.7" y="415" text-anchor="middle" style='font-family:"DejaVu Sans",sans-serif;font-size:16px'>100</text>
</svg></body></html>
